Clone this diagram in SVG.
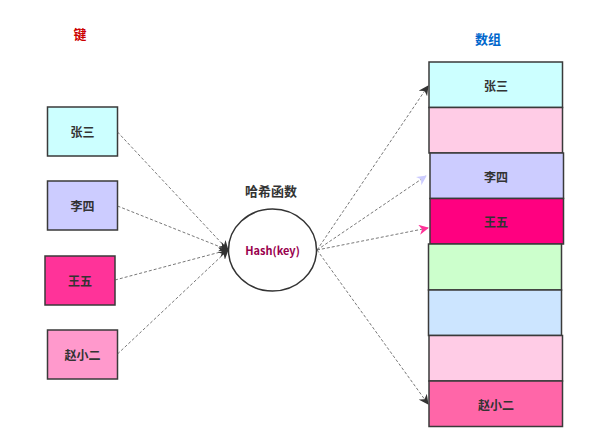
<svg xmlns="http://www.w3.org/2000/svg" width="593" height="430" viewBox="0 0 593 430">
  <defs>
    <marker id="arrDark" viewBox="0 0 10 10" refX="9" refY="5" markerWidth="10" markerHeight="10" markerUnits="userSpaceOnUse" orient="auto">
      <path d="M0,0 L10,5 L0,10 L3,5 z" fill="#333"/>
    </marker>
    <marker id="arrLav" viewBox="0 0 10 10" refX="9" refY="5" markerWidth="10" markerHeight="10" markerUnits="userSpaceOnUse" orient="auto">
      <path d="M0,0 L10,5 L0,10 L3,5 z" fill="#ccccff"/>
    </marker>
    <marker id="arrPink" viewBox="0 0 10 10" refX="9" refY="5" markerWidth="10" markerHeight="10" markerUnits="userSpaceOnUse" orient="auto">
      <path d="M0,0 L10,5 L0,10 L3,5 z" fill="#ff3399"/>
    </marker>
    <style>
      text { font-family: "Noto Sans CJK SC", "Noto Sans", "Liberation Sans", sans-serif; font-weight: bold; text-anchor: middle; dominant-baseline: central; }
      .box { stroke: #3a3a3a; stroke-width: 1.5; }
      .lbl { font-size: 12px; fill: #333; }
      .conn { fill: none; stroke: #555; stroke-width: 0.8; stroke-dasharray: 3 2; }
    </style>
  </defs>

  <!-- headings -->
  <text x="80" y="33" font-size="13" fill="#cc0000">键</text>
  <text x="488" y="38" font-size="13" fill="#0066cc">数组</text>
  <text x="271" y="190" font-size="13" fill="#333">哈希函数</text>

  <!-- keys -->
  <g id="key-zhangsan"><rect class="box" x="47.5" y="107" width="70" height="49" fill="#ccffff"/><text class="lbl" x="82.5" y="131.5">张三</text></g>
  <g id="key-lisi"><rect class="box" x="47.5" y="181" width="70" height="49" fill="#ccccff"/><text class="lbl" x="82.5" y="205.5">李四</text></g>
  <g id="key-wangwu"><rect class="box" x="45" y="256" width="70" height="49" fill="#ff3399"/><text class="lbl" x="80" y="280.5">王五</text></g>
  <g id="key-zhaoxiaoer"><rect class="box" x="47.5" y="330" width="70" height="49" fill="#ff99cc"/><text class="lbl" x="82.5" y="354.5">赵小二</text></g>

  <!-- hash function -->
  <g id="hash">
    <ellipse cx="272.5" cy="250" rx="44" ry="41" fill="#fff" stroke="#333" stroke-width="1.5"/>
    <text x="272.5" y="250" font-size="11" fill="#99004d">Hash(key)</text>
  </g>

  <!-- array slots -->
  <g id="slot-0"><rect class="box" x="429" y="62" width="133.5" height="45.5" fill="#ccffff"/><text class="lbl" x="496" y="85">张三</text></g>
  <g id="slot-1"><rect class="box" x="429" y="107.5" width="133.5" height="45.5" fill="#ffcce6"/></g>
  <g id="slot-2"><rect class="box" x="430" y="153" width="133.5" height="45.5" fill="#ccccff"/><text class="lbl" x="496" y="176">李四</text></g>
  <g id="slot-3"><rect class="box" x="430" y="198.5" width="133.5" height="45.5" fill="#ff0080"/><text class="lbl" x="496" y="221">王五</text></g>
  <g id="slot-4"><rect class="box" x="428.5" y="244" width="133" height="46" fill="#ccffcc"/></g>
  <g id="slot-5"><rect class="box" x="428.5" y="290" width="133" height="45.5" fill="#cce5ff"/></g>
  <g id="slot-6"><rect class="box" x="429" y="335.5" width="133.5" height="45.5" fill="#ffcce6"/></g>
  <g id="slot-7"><rect class="box" x="429" y="381" width="133.5" height="45.5" fill="#ff66a8"/><text class="lbl" x="496" y="404">赵小二</text></g>

  <!-- connectors -->
  <g id="connectors">
    <line class="conn" x1="117.5" y1="132" x2="228" y2="250" marker-end="url(#arrDark)"/>
    <line class="conn" x1="117.5" y1="206" x2="228" y2="250" marker-end="url(#arrDark)"/>
    <line class="conn" x1="115" y1="280" x2="228" y2="250" marker-end="url(#arrDark)"/>
    <line class="conn" x1="117.5" y1="354" x2="228" y2="250" marker-end="url(#arrDark)"/>
    <line class="conn" x1="317" y1="250" x2="428" y2="86" marker-end="url(#arrDark)"/>
    <line class="conn" x1="317" y1="250" x2="426" y2="176" stroke="#d8d8f0" marker-end="url(#arrLav)"/>
    <line class="conn" x1="317" y1="250" x2="428" y2="228" stroke="#ee5599" marker-end="url(#arrPink)"/>
    <line class="conn" x1="317" y1="250" x2="428" y2="404" marker-end="url(#arrDark)"/>
  </g>
</svg>
